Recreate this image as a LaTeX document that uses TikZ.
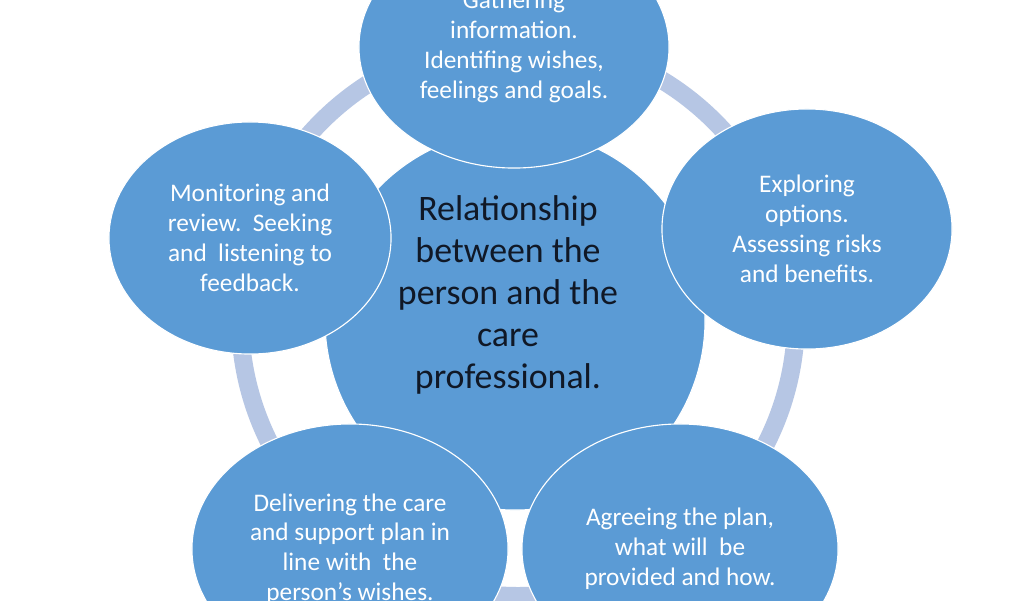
\documentclass[tikz,border=0pt]{standalone}
\usepackage{fontspec}
\setmainfont{Carlito}
\usetikzlibrary{shapes.geometric}

\definecolor{stageblue}{RGB}{91,155,213}
\definecolor{ringblue}{RGB}{182,198,228}
\definecolor{hubink}{RGB}{16,24,38}

\begin{document}
\begin{tikzpicture}[x=0.025cm,y=-0.025cm,
  stage/.style={ellipse, fill=stageblue, draw=white, line width=0.8pt, text=white,
    align=center, inner sep=0pt, font=\fontsize{18}{21.2}\selectfont},
  hub/.style={circle, fill=stageblue, draw=white, line width=0.8pt,
    minimum size=9.5cm, inner sep=0pt},
  hubtext/.style={text=hubink, align=center, font=\fontsize{25.5}{30}\selectfont},
  ring/.style={ringblue, line width=0.45cm}]
\useasboundingbox (0,0) rectangle (1024,600);
\clip (0,0) rectangle (1024,600);
\fill[white] (0,0) rectangle (1024,600);

% the cycle behind everything
\coordinate (cycle) at (518,318);
\draw[ring] (cycle) circle[radius=278];

\node[hub] (care) at (515,320) {};
\node[hubtext] (caretext) at (508,295) {Relationship\\ between the\\ person and the\\ care\\ professional.};

\node[stage, minimum width=7.75cm, minimum height=6.05cm] (gather) at (514,47)
  {Gathering\\ information.\\ Identifing wishes,\\ feelings and goals.};
\node[stage, minimum width=7.05cm, minimum height=5.8cm] (monitor) at (250,238)
  {Monitoring and\\ review.\ \ Seeking\\ and\ \ listening to\\ feedback.};
\node[stage, minimum width=7.25cm, minimum height=6.0cm] (explore) at (807,229)
  {Exploring\\ options.\\ Assessing risks\\ and benefits.};
\node[stage, minimum width=7.9cm, minimum height=6.25cm] (deliver) at (350,549)
  {Delivering the care\\ and support plan in\\ line with\ \ the\\ person's wishes.};
\node[stage, minimum width=7.9cm, minimum height=6.25cm] (agree) at (680,549)
  {Agreeing the plan,\\ what will\ \ be\\ provided and how.};

\end{tikzpicture}
\end{document}
